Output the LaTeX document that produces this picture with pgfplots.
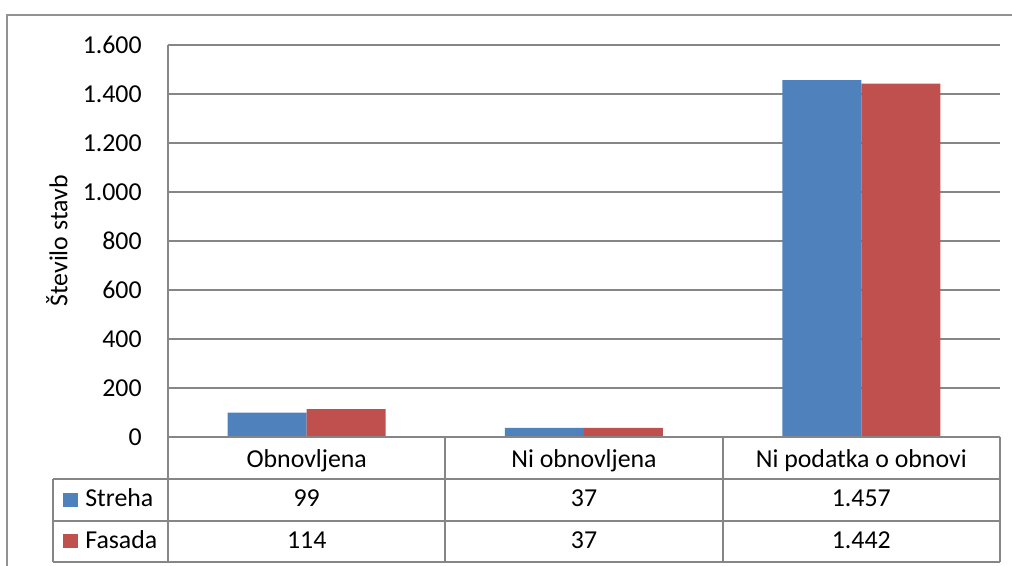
\documentclass[border=0pt]{standalone}
\usepackage{fontspec}
\setmainfont{Carlito}
\usepackage{pgfplots}
\pgfplotsset{compat=1.18}
\definecolor{streha}{HTML}{4F81BD}
\definecolor{fasada}{HTML}{C0504D}
\definecolor{mreza}{HTML}{868686}
\newcommand\cf{\fontsize{15.5}{18}\selectfont}

\begin{document}
\begin{tikzpicture}[x=0.6pt,y=0.6pt]
\useasboundingbox (0,0) rectangle (1012,566);
\clip (0,0) rectangle (1012,566);
% outer chart frame (cut at the right and bottom)
\draw[mreza!90, line width=1.1pt] (7,-5) -- (7,551) -- (1020,551);

\begin{axis}[
    at={(100.8pt,77.4pt)}, anchor=south west,
    scale only axis, width=499.2pt, height=235.2pt,
    ybar=0pt, bar width=47.4pt,
    xmin=-0.5, xmax=2.5, ymin=0, ymax=1600,
    xtick=\empty,
    ytick={0,200,...,1600},
    major tick length=0pt,
    ymajorgrids, grid style={mreza, line width=0.9pt},
    axis line style={draw=none},
    /pgf/number format/1000 sep={.},
    /pgf/number format/assume math mode=true,
    yticklabel style={font=\cf, anchor=east, inner sep=0pt, xshift=-15.6pt},
    every axis y label/.style={at={(axis description cs:-0.1334,0.5)}, rotate=90, anchor=center, font=\cf},
    ylabel={Število stavb},
    clip=false,
]
\addplot[fill=streha, draw=none] coordinates {(0,99) (1,37) (2,1457)};
\addplot[fill=fasada, draw=none] coordinates {(0,114) (1,37) (2,1442)};
\end{axis}

% data table
\begin{scope}[mreza, line width=0.9pt]
\draw (168,521) -- (168,4);
\draw (168,129) -- (1000,129);
\draw (53,87) -- (1000,87);
\draw (53,45) -- (1000,45);
\draw (53,4) -- (1000,4);
\draw (53,87) -- (53,4);
\draw (445,129) -- (445,4);
\draw (723,129) -- (723,4);
\draw (1000,129) -- (1000,4);
\end{scope}

\begin{scope}[every node/.style={font=\cf, inner sep=0pt, anchor=base}]
\node at (306.7,98) {Obnovljena};
\node at (584,98) {Ni obnovljena};
\node at (861.3,98) {Ni podatka o obnovi};
\node at (306.7,59) {99};
\node at (584,59) {37};
\node at (861.3,59) {1.457};
\node at (306.7,17) {114};
\node at (584,17) {37};
\node at (861.3,17) {1.442};
\fill[streha] (63,59) rectangle (78,73);
\fill[fasada] (63,18) rectangle (78,32);
\node[anchor=base west] at (85,59) {Streha};
\node[anchor=base west] at (85,17) {Fasada};
\end{scope}
\end{tikzpicture}
\end{document}
